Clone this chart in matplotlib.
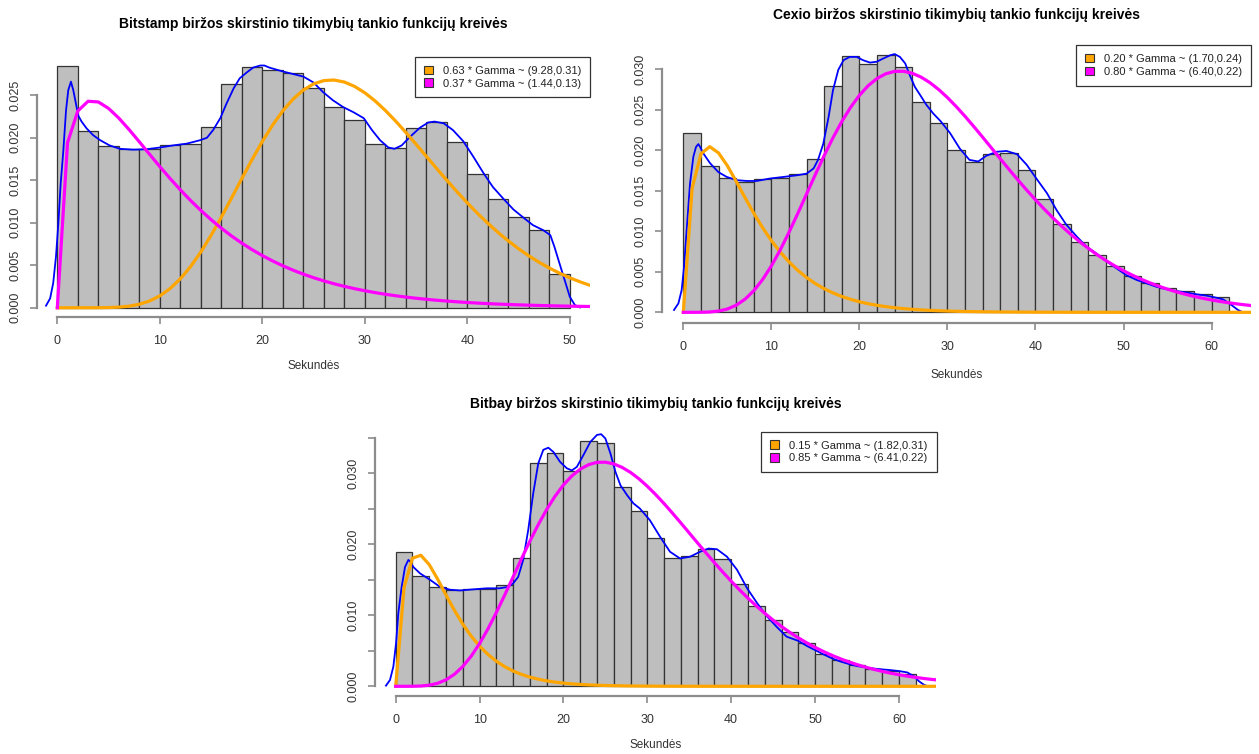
import math
import matplotlib
matplotlib.use("Agg")
import matplotlib.pyplot as plt
from matplotlib.patches import Patch
import numpy as np

plt.rcParams['font.family'] = ['Liberation Sans', 'DejaVu Sans']

W, H = 1259, 754

# --- data ------------------------------------------------------------------
titles = ["Bitstamp biržos skirstinio tikimybių tankio funkcijų kreivės",
          "Cexio biržos skirstinio tikimybių tankio funkcijų kreivės",
          "Bitbay biržos skirstinio tikimybių tankio funkcijų kreivės"]

# histogram densities, bins of width 2 starting at 0
bitstamp_hist = [0.0284, 0.0208, 0.0190, 0.0187, 0.0187, 0.0191, 0.0193, 0.0213,
                 0.0263, 0.0283, 0.0280, 0.0276, 0.0259, 0.0236, 0.0221, 0.0193,
                 0.0188, 0.0212, 0.0218, 0.0195, 0.0157, 0.0128, 0.0107, 0.0091,
                 0.0040]
cexio_hist = [0.0221, 0.0181, 0.0166, 0.0161, 0.0164, 0.0166, 0.0170, 0.0189,
              0.0279, 0.0316, 0.0306, 0.0317, 0.0303, 0.0259, 0.0233, 0.0200,
              0.0185, 0.0195, 0.0196, 0.0175, 0.0140, 0.0109, 0.0087, 0.0071,
              0.0057, 0.0045, 0.0036, 0.0030, 0.0026, 0.0023, 0.0019]
bitbay_hist = [0.0189, 0.0155, 0.0140, 0.0135, 0.0137, 0.0137, 0.0142, 0.0180,
               0.0315, 0.0329, 0.0303, 0.0345, 0.0343, 0.0280, 0.0247, 0.0209,
               0.0181, 0.0183, 0.0194, 0.0179, 0.0144, 0.0113, 0.0093, 0.0076,
               0.0061, 0.0046, 0.0037, 0.0030, 0.0025, 0.0022, 0.0017]

# kernel density (blue) read as points
bitstamp_kde_x = [-1.1, -0.7, -0.4, -0.13, 0.1, 0.33, 0.59, 0.85, 1.07, 1.33, 1.56,
                  1.82, 2.05, 2.37, 2.86, 3.5, 4.2, 5.1, 6.1, 7.4, 8.7, 10.0, 11.3,
                  12.6, 13.9, 14.6, 15.2, 15.9, 16.5, 17.2, 17.8, 18.5, 19.1, 19.8,
                  20.2, 20.7, 22.0, 23.0, 24.0, 25.0, 25.9, 26.9, 27.9, 28.9, 29.9,
                  30.7, 31.5, 32.3, 32.9, 33.6, 34.4, 35.4, 36.2, 36.8, 37.7, 38.6,
                  39.6, 40.6, 41.6, 42.5, 43.5, 44.5, 45.5, 46.4, 47.4, 48.1, 48.5,
                  49.0, 49.5, 50.0, 50.5, 51.0]
bitstamp_kde_y = [0.00024, 0.0011, 0.0029, 0.0060, 0.0099, 0.0146, 0.0185, 0.0232,
                  0.0256, 0.0266, 0.0256, 0.0240, 0.0226, 0.0219, 0.0211, 0.0203,
                  0.0197, 0.0191, 0.0187, 0.0186, 0.01865, 0.01885, 0.0191, 0.0193,
                  0.0197, 0.0200, 0.0209, 0.0223, 0.0240, 0.0258, 0.0270, 0.0277,
                  0.02825, 0.0285, 0.0285, 0.02825, 0.0278, 0.0275, 0.0272, 0.0265,
                  0.0254, 0.0244, 0.0236, 0.0230, 0.0223, 0.0209, 0.0197, 0.01885,
                  0.0187, 0.0191, 0.0201, 0.0212, 0.0218, 0.0219, 0.0217, 0.0209,
                  0.0196, 0.01775, 0.0158, 0.0142, 0.01285, 0.01156, 0.01058, 0.00972,
                  0.00913, 0.00854, 0.00717, 0.0052, 0.00325, 0.00129, 0.00031, 0.00004]

cexio_kde_x = [-1.06, -0.56, -0.19, 0.08, 0.38, 0.76, 1.14, 1.44, 1.71, 1.9, 2.27,
               3.03, 3.97, 4.92, 6.06, 7.2, 8.33, 9.84, 11.4, 12.9, 14.0, 14.8, 15.3,
               15.9, 16.5, 17.0, 17.6, 18.2, 18.9, 19.7, 20.4, 21.2, 21.95, 22.7, 23.5,
               24.0, 24.6, 25.2, 25.7, 26.3, 26.9, 27.6, 28.4, 29.2, 30.3, 31.4, 32.5,
               33.5, 34.4, 35.6, 36.7, 37.9, 39.0, 40.1, 41.3, 42.4, 43.5, 44.7, 45.8,
               46.9, 48.1, 49.2, 50.3, 51.5, 52.6, 53.7, 54.9, 56.0, 57.3, 58.3, 59.4,
               60.5, 61.3, 61.9, 62.5, 63.0, 63.4]
cexio_kde_y = [0.00029, 0.0011, 0.00275, 0.0056, 0.0102, 0.0159, 0.0192, 0.0204,
               0.02075, 0.0204, 0.0196, 0.0184, 0.0173, 0.0167, 0.0163, 0.0162,
               0.0162, 0.0165, 0.0167, 0.0169, 0.0171, 0.01775, 0.0188, 0.0208,
               0.0241, 0.0274, 0.0299, 0.0311, 0.0315, 0.0315, 0.0311, 0.0308,
               0.0309, 0.0313, 0.0317, 0.03185, 0.0315, 0.0307, 0.0293, 0.0278,
               0.0268, 0.0256, 0.0245, 0.0236, 0.0221, 0.0202, 0.0188, 0.0186,
               0.0193, 0.0198, 0.0199, 0.0195, 0.0182, 0.0165, 0.0147, 0.0126,
               0.0108, 0.00933, 0.0081, 0.00727, 0.00625, 0.00543, 0.0046, 0.00399,
               0.00358, 0.00316, 0.00284, 0.00263, 0.00242, 0.00222, 0.00206,
               0.00181, 0.0016, 0.00119, 0.0007, 0.00029, 0.00008]

bitbay_kde_x = [-1.16, -0.68, -0.28, 0.04, 0.31, 0.71, 1.11, 1.51, 1.78, 2.1, 2.9,
                4.09, 5.28, 6.48, 7.67, 9.26, 10.85, 12.4, 13.4, 14.0, 14.6, 15.2,
                15.8, 16.4, 17.0, 17.6, 18.2, 18.8, 19.6, 20.4, 21.0, 21.6, 22.4,
                23.2, 24.0, 24.5, 25.0, 25.6, 26.2, 26.8, 27.6, 28.35, 29.1, 30.3,
                31.5, 32.7, 33.9, 35.1, 36.3, 37.3, 38.3, 39.5, 40.7, 41.9, 43.1,
                44.3, 45.4, 46.6, 48.0, 49.0, 50.0, 51.0, 52.0, 53.0, 54.0, 55.0,
                56.0, 57.0, 58.0, 59.0, 60.0, 61.0, 61.8, 62.4, 63.0, 63.4]
bitbay_kde_y = [0.00009, 0.00089, 0.00277, 0.00605, 0.0103, 0.0140, 0.0168, 0.0178,
                0.0175, 0.0168, 0.0159, 0.0150, 0.0140, 0.0136, 0.0135, 0.01365,
                0.0138, 0.0138, 0.0140, 0.0145, 0.0154, 0.0178, 0.0220, 0.0272,
                0.0314, 0.0333, 0.0336, 0.0330, 0.0316, 0.0307, 0.0304, 0.0309,
                0.0326, 0.0344, 0.0354, 0.0355, 0.0349, 0.0328, 0.0302, 0.0283,
                0.0269, 0.02575, 0.02505, 0.0234, 0.0211, 0.01895, 0.0180, 0.01825,
                0.01895, 0.0194, 0.0193, 0.01825, 0.0164, 0.0138, 0.0117, 0.0098,
                0.0084, 0.0070, 0.0064, 0.0057, 0.0051, 0.0045, 0.00395, 0.0035,
                0.00315, 0.00285, 0.00265, 0.0025, 0.00238, 0.00228, 0.00215,
                0.00195, 0.0014, 0.0007, 0.0002, 0.00003]

# gamma mixture components from the legends: weight, shape, rate
bitstamp_gamma = [(0.63, 9.28, 0.31), (0.37, 1.44, 0.13)]
cexio_gamma = [(0.20, 1.70, 0.24), (0.80, 6.40, 0.22)]
bitbay_gamma = [(0.15, 1.82, 0.31), (0.85, 6.41, 0.22)]

x_ticks = [[0, 10, 20, 30, 40, 50], [0, 10, 20, 30, 40, 50, 60], [0, 10, 20, 30, 40, 50, 60]]
y_ticks = [[0, 0.005, 0.010, 0.015, 0.020, 0.025],
           [0, 0.005, 0.010, 0.015, 0.020, 0.025, 0.030],
           [0, 0.005, 0.010, 0.015, 0.020, 0.025, 0.030, 0.035]]
y_label_every = [1, 1, 2]
x_max = [50, 62, 62]

# plot regions in pixels: left, top, right, bottom
regions = [(36.8, 56.7, 590.3, 317.4), (661.5, 45.0, 1251.0, 322.6), (374.9, 431.5, 936.5, 696.1)]
# title and x-label centre heights in pixels
title_y = [24, 15, 404]
xlabel_y = [366, 375, 745]


def gamma_pdf(x, shape, rate):
    out = []
    for v in x:
        if v <= 0:
            out.append(0.0)
        else:
            out.append(math.exp(shape * math.log(rate) + (shape - 1) * math.log(v)
                                - rate * v - math.lgamma(shape)))
    return np.array(out)


fig = plt.figure(figsize=(W / 100, H / 100), dpi=100)

hists = [bitstamp_hist, cexio_hist, bitbay_hist]
kdes = [(bitstamp_kde_x, bitstamp_kde_y), (cexio_kde_x, cexio_kde_y), (bitbay_kde_x, bitbay_kde_y)]
gammas = [bitstamp_gamma, cexio_gamma, bitbay_gamma]
colors = ['#FFA500', '#FF00FF']
axis_col = '#8c8c8c'

for i in range(3):
    l, t, r, b = regions[i]
    ax = fig.add_axes([l / W, 1 - b / H, (r - l) / W, (b - t) / H])
    heights = hists[i]
    edges = np.arange(len(heights)) * 2
    ax.bar(edges, heights, width=2, align='edge', color='#BEBEBE',
           edgecolor='#333333', linewidth=0.9, zorder=1)

    ax.plot(kdes[i][0], kdes[i][1], color='blue', linewidth=1.3, zorder=2)

    xs = np.arange(0, 66)
    for (w, k, rate), c in zip(gammas[i], colors):
        ax.plot(xs, w * gamma_pdf(xs, k, rate), color=c, linewidth=2.3, zorder=3)

    xm = x_max[i]
    ax.set_xlim(-0.04 * xm, 1.04 * xm)
    ym = max(heights)
    ax.set_ylim(-0.04 * ym, 1.04 * ym)

    for s in ['top', 'right']:
        ax.spines[s].set_visible(False)
    ax.spines['left'].set_bounds(0, y_ticks[i][-1])
    ax.spines['bottom'].set_bounds(0, x_ticks[i][-1])
    for s in ['left', 'bottom']:
        ax.spines[s].set_color(axis_col)
        ax.spines[s].set_linewidth(1.6)

    ax.set_xticks(x_ticks[i])
    ax.set_xticklabels([str(v) for v in x_ticks[i]])
    ax.set_yticks(y_ticks[i])
    ylabels = []
    for j, v in enumerate(y_ticks[i]):
        ylabels.append('%.3f' % v if j % y_label_every[i] == 0 else '')
    ax.set_yticklabels(ylabels, rotation=90, va='center')
    ax.tick_params(axis='both', colors=axis_col, labelcolor='#333333',
                   labelsize=9, length=5, width=1.2)
    ax.tick_params(axis='x', pad=8)
    ax.tick_params(axis='y', pad=6)

    cx = (l + r) / 2 / W
    fig.text(cx, 1 - title_y[i] / H, titles[i], ha='center', va='center',
             fontsize=10, fontweight='bold')
    fig.text(cx, 1 - xlabel_y[i] / H, 'Sekundės', ha='center', va='center',
             fontsize=8.5, color='#333333')

    labels = ['%.2f * Gamma ~ (%.2f,%.2f)' % g for g in gammas[i]]
    handles = [Patch(facecolor=c, edgecolor='#333333', linewidth=0.8) for c in colors]
    leg = ax.legend(handles, labels, loc='upper right', bbox_to_anchor=(1, 1),
                    borderaxespad=0, fancybox=False, framealpha=1, edgecolor='#333333',
                    fontsize=8, handlelength=0.8, handleheight=0.8, handletextpad=0.9,
                    borderpad=0.8, labelspacing=0.25)
    leg.get_frame().set_linewidth(0.9)
    for txt in leg.get_texts():
        txt.set_color('#222222')

fig.savefig('out.png', dpi=100)
